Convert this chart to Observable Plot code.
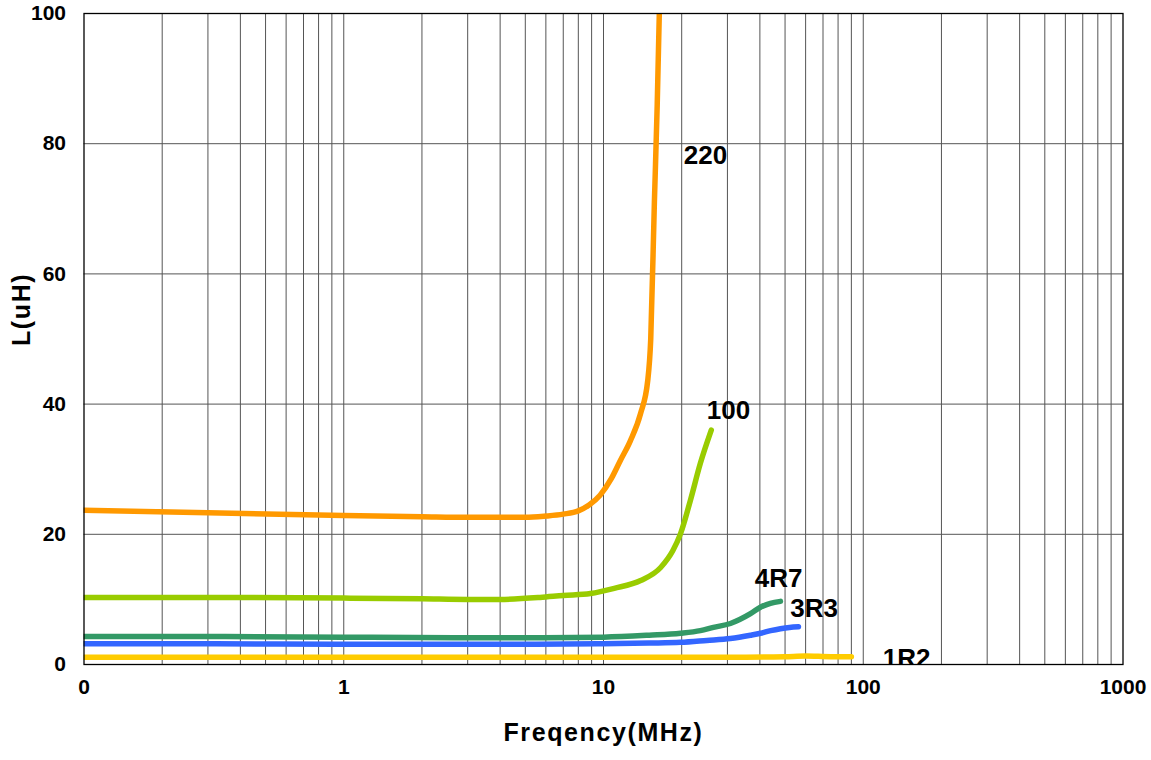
<!DOCTYPE html>
<html>
<head>
<meta charset="utf-8">
<script src="https://cdn.jsdelivr.net/npm/d3@7"></script>
<script src="https://cdn.jsdelivr.net/npm/@observablehq/plot@0.6"></script>
<style>
  html, body { margin: 0; padding: 0; background: #fff; }
</style>
</head>
<body>
<div id="chart"></div>
<script>
// ---- data ----
const xTickValues = [0.1, 1, 10, 100, 1000];
const xTickLabels = ["0", "1", "10", "100", "1000"];
const yTickValues = [0, 20, 40, 60, 80, 100];
const yGridValues = [20, 40, 60, 80];

const f220 = [0.1, 0.3, 1, 2, 3, 5, 6, 7, 8, 8.8, 9.7, 10.7, 11.6, 12.7, 13.9, 14.8, 15.2, 15.7, 16.1, 16.4];
const v220 = [23.7, 23.3, 22.9, 22.7, 22.6, 22.6, 22.8, 23.1, 23.6, 24.5, 26.0, 28.5, 31.3, 34.4, 38.6, 43.6, 50, 71, 86, 100];

const f100 = [0.1, 0.3, 1, 2, 3, 4, 5.7, 7, 8.9, 11, 13.9, 16.6, 18.5, 19.8, 21.6, 23.6, 26.0];
const v100 = [10.3, 10.3, 10.2, 10.1, 10.0, 10.0, 10.3, 10.6, 10.9, 11.7, 12.9, 14.9, 17.5, 20.1, 25.2, 30.9, 36.0];

const f4R7 = [0.1, 0.3, 1, 3, 5, 10, 15, 19.8, 23.6, 26.5, 30.8, 36.8, 40.2, 43.9, 48];
const v4R7 = [4.3, 4.3, 4.2, 4.1, 4.1, 4.2, 4.5, 4.8, 5.2, 5.7, 6.3, 7.8, 8.8, 9.4, 9.7];

const f3R3 = [0.1, 0.3, 1, 3, 5, 10, 15, 19.8, 25, 30.8, 36.8, 40.2, 44, 48, 52, 56.3];
const v3R3 = [3.2, 3.2, 3.1, 3.1, 3.1, 3.2, 3.3, 3.4, 3.7, 4.0, 4.5, 4.8, 5.2, 5.5, 5.7, 5.8];

const f1R2 = [0.1, 0.3, 1, 3, 10, 30, 50, 60, 75, 90];
const v1R2 = [1.1, 1.1, 1.1, 1.1, 1.1, 1.1, 1.2, 1.3, 1.2, 1.2];

const seriesNames = ["220", "100", "4R7", "3R3", "1R2"];
const seriesColors = ["#FF9900", "#99CC00", "#339966", "#3366FF", "#FFCC00"];
const labelX = [24.7, 30.3, 47.2, 64.7, 147];
const labelY = [78.2, 39.0, 13.2, 8.6, 0.9];

// ---- build tables ----
const freqs = [f220, f100, f4R7, f3R3, f1R2];
const vals = [v220, v100, v4R7, v3R3, v1R2];
const rows = [];
seriesNames.forEach((name, s) => {
  freqs[s].forEach((f, i) => rows.push({name, f, v: vals[s][i]}));
});
const labels = seriesNames.map((name, i) => ({name, x: labelX[i], y: labelY[i]}));

// vertical gridlines (1..9 of each decade)
const gridX = [];
for (let e = -1; e < 3; e++) {
  for (let m = 1; m <= 9; m++) {
    const v = m * Math.pow(10, e);
    if (v > 0.1) gridX.push(+v.toPrecision(3));
  }
}

const font = "'Liberation Sans', Arial, Helvetica, sans-serif";

const chart = Plot.plot({
  width: 1151,
  height: 760,
  marginLeft: 83.5,
  marginRight: 28.5,
  marginTop: 13,
  marginBottom: 96,
  style: {fontFamily: font, fontSize: "20px", fontWeight: "bold", color: "#000", background: "#fff"},
  x: {type: "log", domain: [0.1, 1000]},
  y: {domain: [0, 100]},
  color: {domain: seriesNames, range: seriesColors},
  marks: [
    Plot.ruleX(gridX, {stroke: "#555", strokeWidth: 1}),
    Plot.ruleY(yGridValues, {stroke: "#555", strokeWidth: 1}),
    Plot.line(rows, {x: "f", y: "v", z: "name", stroke: "name", strokeWidth: 5.5, curve: "monotone-x", strokeLinecap: "round", clip: true}),
    Plot.frame({stroke: "#000", strokeWidth: 1.3}),
    Plot.axisX({ticks: xTickValues, tickFormat: (d) => xTickLabels[xTickValues.indexOf(d)], tickSize: 0, tickPadding: 15, fontSize: 21, fontWeight: "bold", label: null}),
    Plot.axisY({ticks: yTickValues, tickSize: 0, tickPadding: 18, fontSize: 21, fontWeight: "bold", label: null}),
    Plot.text(labels, {x: "x", y: "y", text: "name", fontSize: 26, fontWeight: "bold", fill: "#000", clip: true}),
    Plot.text(["Freqency(MHz)"], {frameAnchor: "bottom", dy: 76, fontSize: 25, fontWeight: "bold", fill: "#000"}),
    Plot.text(["L(uH)"], {frameAnchor: "left", dx: -62, dy: 7, rotate: -90, fontSize: 25, fontWeight: "bold", fill: "#000"})
  ]
});

d3.select(chart).selectAll("text").filter(function() {
  const t = this.textContent;
  return t === "Freqency(MHz)" || t === "L(uH)";
}).style("letter-spacing", "1.6px");
d3.select(chart).selectAll("text").filter(function() {
  return seriesNames.includes(this.textContent) && this.getAttribute("font-size") === "26";
}).style("letter-spacing", "0.8px");

document.getElementById("chart").appendChild(chart);
</script>
</body>
</html>
